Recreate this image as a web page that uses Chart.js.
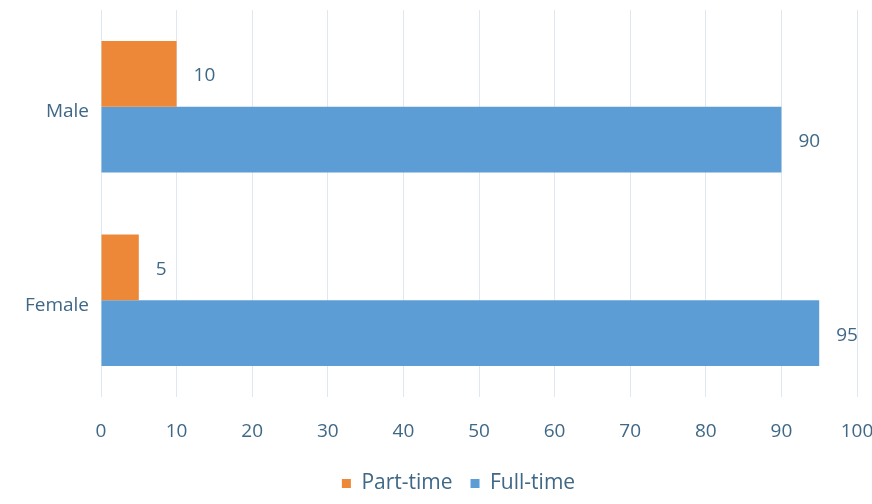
<!DOCTYPE html>
<html lang="en">
<head>
    <meta charset="UTF-8">
    <title>Part-time / Full-time by gender</title>
    <script src="https://cdn.jsdelivr.net/npm/chart.js"></script>
    <style>
        html, body { margin: 0; padding: 0; background: #fff; }
        #wrap { width: 872px; height: 504px; position: relative; }
    </style>
</head>
<body>
    <div id="wrap"><canvas id="chart"></canvas></div>

    <script>
        const categories = ['Male', 'Female'];
        const partTime = [10, 5];
        const fullTime = [90, 95];
        const xTicks = [0, 10, 20, 30, 40, 50, 60, 70, 80, 90, 100];

        const textColor = '#3f6887';
        const fontFamily = '"Open Sans", "DejaVu Sans", sans-serif';

        // draws the value to the right of each bar
        const valueLabels = {
            id: 'valueLabels',
            afterDatasetsDraw(chart) {
                const ctx = chart.ctx;
                ctx.save();
                ctx.font = '19px ' + fontFamily;
                ctx.fillStyle = textColor;
                ctx.textAlign = 'left';
                ctx.textBaseline = 'middle';
                chart.data.datasets.forEach((ds, i) => {
                    chart.getDatasetMeta(i).data.forEach((bar, j) => {
                        ctx.fillText(ds.data[j], bar.x + 17, bar.y + 2);
                    });
                });
                ctx.restore();
            }
        };

        // original legend sits a little right of the canvas centre
        const legendShift = {
            id: 'legendShift',
            afterLayout(chart) {
                chart.legend.left += 30;
                chart.legend.right += 30;
            }
        };

        new Chart(document.getElementById('chart'), {
            type: 'bar',
            data: {
                labels: categories,
                datasets: [
                    { label: 'Part-time', data: partTime, backgroundColor: '#ec8838' },
                    { label: 'Full-time', data: fullTime, backgroundColor: '#5d9dd6' }
                ]
            },
            options: {
                indexAxis: 'y',
                responsive: true,
                maintainAspectRatio: false,
                animation: false,
                layout: { padding: { top: 10, right: 15, left: 0, bottom: 0 } },
                datasets: { bar: { barPercentage: 1, categoryPercentage: 0.68 } },
                scales: {
                    x: {
                        min: 0, max: 100,
                        afterBuildTicks: s => { s.ticks = xTicks.map(v => ({ value: v })); },
                        grid: { color: '#dfe8f0', drawTicks: false },
                        border: { display: false },
                        ticks: { color: textColor, font: { family: fontFamily, size: 19 }, padding: 23 },
                        afterFit: s => { s.height = 58; s.paddingRight = 0; s.paddingLeft = 0; }
                    },
                    y: {
                        grid: { display: false },
                        border: { display: false },
                        ticks: { color: textColor, font: { family: fontFamily, size: 19 }, padding: 4, labelOffset: 5 },
                        afterFit: s => { s.width = 101; s.paddingTop = 0; s.paddingBottom = 0; }
                    }
                },
                plugins: {
                    legend: {
                        position: 'bottom',
                        labels: {
                            color: textColor,
                            font: { family: fontFamily, size: 21 },
                            boxWidth: 9, boxHeight: 9,
                            padding: 18
                        }
                    },
                    tooltip: { enabled: false }
                }
            },
            plugins: [valueLabels, legendShift]
        });
    </script>
</body>
</html>
